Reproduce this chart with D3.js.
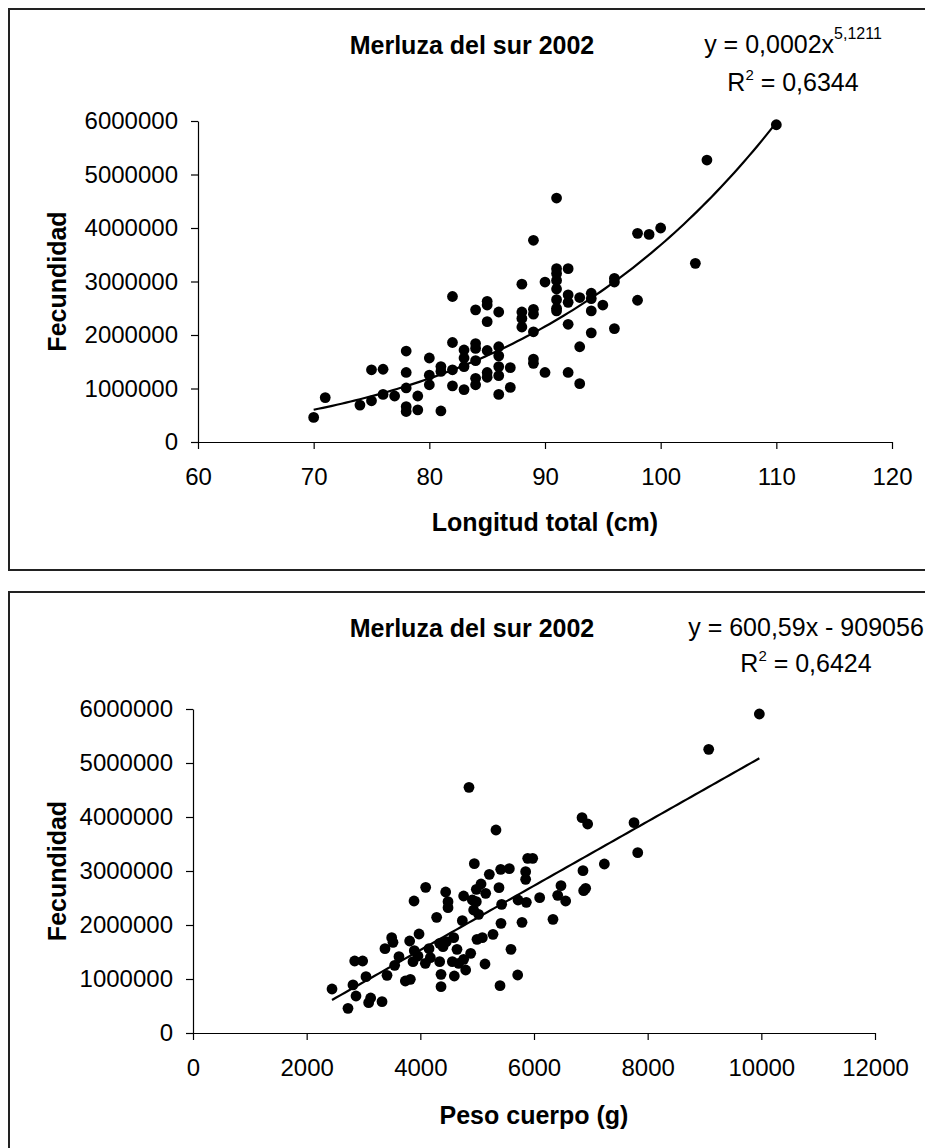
<!DOCTYPE html>
<html>
<head>
<meta charset="utf-8">
<script src="https://cdn.jsdelivr.net/npm/d3@7"></script>
<style>
  body { margin: 0; background: #fff; }
  svg text { font-family: "Liberation Sans", Arial, sans-serif; fill: #000; }
</style>
</head>
<body>
<div id="chart"></div>
<script>
// panel 1: fecundity against total length
const lengthCm = [70,71,74,75,75,76,76,77,78,78,78,78,78,79,79,80,80,80,81,81,81,82,82,82,82,83,83,83,83,
  84,84,84,84,84,84,85,85,85,85,85,85,86,86,86,86,86,86,87,87,88,88,88,88,89,89,89,89,89,89,90,90,
  91,91,91,91,91,91,91,91,92,92,92,92,92,93,93,93,94,94,94,94,95,96,96,96,98,98,99,100,103,104,110];
const fecundityByLength = [460000,830000,690000,770000,1350000,1360000,890000,860000,1700000,1300000,1010000,
  660000,570000,860000,600000,1570000,1250000,1070000,580000,1410000,1320000,2720000,1860000,1350000,1050000,
  1720000,1570000,1410000,980000,2470000,1840000,1750000,1520000,1190000,1070000,2630000,2560000,2250000,
  1710000,1300000,1210000,2430000,1780000,1610000,1410000,1240000,890000,1390000,1020000,2950000,2430000,
  2310000,2150000,3770000,2480000,2390000,2060000,1550000,1470000,2990000,1300000,4560000,3240000,3150000,
  3020000,2860000,2660000,2500000,2450000,3240000,2750000,2610000,2200000,1300000,2700000,1780000,1090000,
  2780000,2680000,2450000,2040000,2560000,3060000,2990000,2120000,3900000,2650000,3880000,4000000,3340000,
  5270000,5930000];

// panel 2: fecundity against body weight
const weightG = [2446,2727,2815,2868,2845,2985,3044,3091,3126,3326,3378,3414,3496,3519,3548,3624,3736,3824,
  3812,3889,3894,3871,3959,3977,4094,4088,4153,4176,4287,4340,4340,4364,4364,4399,4446,4487,4487,4457,4587,
  4563,4598,4645,4674,4739,4762,4762,4798,4856,4886,4915,4938,4950,4985,4985,5026,4997,5091,5068,5138,5150,
  5214,5279,5331,5384,5402,5414,5431,5419,5566,5595,5713,5789,5719,5853,5853,5889,5977,5865,6100,6334,6417,
  6475,6557,6845,6944,6862,6874,6909,7238,7760,7825,9074,9965];
const fecundityByWeight = [815000,457000,890000,685000,1333000,1333000,1043000,562000,648000,580000,1562000,
  1068000,1765000,1679000,1253000,1414000,963000,994000,1704000,2444000,1525000,1321000,1426000,1833000,
  2698000,1290000,1562000,1395000,2142000,1660000,1321000,1086000,858000,1599000,2611000,2432000,2321000,
  1691000,1765000,1321000,1056000,1549000,1290000,2080000,2537000,1364000,1167000,4549000,1475000,2463000,
  2278000,3136000,2660000,2432000,2198000,1735000,1765000,2759000,1278000,2586000,2938000,1827000,3759000,
  2691000,877000,3031000,2383000,2031000,3043000,1549000,1074000,2049000,2463000,2988000,2846000,3235000,
  3235000,2420000,2506000,2105000,2549000,2728000,2444000,3988000,3870000,3006000,2636000,2679000,3130000,
  3895000,3340000,5253000,5907000];

const yTicks = [0,1000000,2000000,3000000,4000000,5000000,6000000];
const lengthTicks = [60,70,80,90,100,110,120];
const weightTicks = [0,2000,4000,6000,8000,10000,12000];

const chartTitle = "Merluza del sur 2002";
const yLabel = "Fecundidad";

const svg = d3.select("#chart").append("svg")
  .attr("width", 925).attr("height", 1148);

function linFit(xs, ys) {
  const mx = d3.mean(xs), my = d3.mean(ys);
  const sxy = d3.sum(xs, (v, i) => (v - mx) * (ys[i] - my));
  const sxx = d3.sum(xs, v => (v - mx) * (v - mx));
  const slope = sxy / sxx;
  return { slope, intercept: my - slope * mx };
}

// excel-style trendlines, fitted from the points
function powerTrend(xs, ys) {
  const f = linFit(xs.map(Math.log), ys.map(Math.log));
  return v => Math.exp(f.intercept) * Math.pow(v, f.slope);
}
function linearTrend(xs, ys) {
  const f = linFit(xs, ys);
  return v => f.intercept + f.slope * v;
}

function drawPanel(p) {
  const g = svg.append("g");

  g.append("rect")
    .attr("x", 9).attr("y", p.top)
    .attr("width", 940).attr("height", p.frameH)
    .attr("fill", "none").attr("stroke", "#222").attr("stroke-width", 2);

  const x = d3.scaleLinear().domain(d3.extent(p.xTicks)).range([p.left, p.right]);
  const y = d3.scaleLinear().domain([0, 6000000]).range([p.bottom, p.yTop]);

  const xAxis = g.append("g")
    .attr("transform", `translate(0,${p.bottom})`)
    .call(d3.axisBottom(x).tickValues(p.xTicks).tickFormat(d3.format("d"))
      .tickSize(7).tickSizeOuter(0).tickPadding(19));
  const yAxis = g.append("g")
    .attr("transform", `translate(${p.left},0)`)
    .call(d3.axisLeft(y).tickValues(yTicks).tickFormat(d3.format("d"))
      .tickSize(7).tickSizeOuter(0).tickPadding(13));
  [xAxis, yAxis].forEach(a => {
    a.selectAll("path, line").attr("stroke", "#000").attr("stroke-width", 1.2);
    a.selectAll("text").attr("font-size", 24)
      .style("font-family", "'Liberation Sans', Arial, sans-serif").attr("fill", "#000");
  });

  // trendline
  const [x0, x1] = d3.extent(p.xs);
  const steps = d3.range(0, 101).map(i => x0 + (x1 - x0) * i / 100);
  g.append("path")
    .datum(steps)
    .attr("fill", "none").attr("stroke", "#000").attr("stroke-width", 2.2)
    .attr("d", d3.line().x(v => x(v)).y(v => y(p.trend(v))));

  g.selectAll("circle.pt").data(p.xs.map((v, i) => [v, p.ys[i]]))
    .join("circle").attr("class", "pt")
    .attr("cx", d => x(d[0])).attr("cy", d => y(d[1]))
    .attr("r", 5.4).attr("fill", "#000");

  g.append("text")
    .attr("x", 472).attr("y", p.top + 45)
    .attr("text-anchor", "middle").attr("font-size", 25).attr("font-weight", "bold")
    .text(chartTitle);

  // equation
  const eq = g.append("text")
    .attr("x", p.eqX).attr("y", p.top + 44)
    .attr("text-anchor", "middle").attr("font-size", 25);
  eq.append("tspan").text(p.eqMain);
  if (p.eqSup) eq.append("tspan").attr("font-size", 16).attr("dy", -14).text(p.eqSup);

  const r2 = g.append("text")
    .attr("x", p.eqX).attr("y", p.top + p.r2Dy)
    .attr("text-anchor", "middle").attr("font-size", 25);
  r2.append("tspan").text("R");
  r2.append("tspan").attr("font-size", 15).attr("dy", -11).text("2");
  r2.append("tspan").attr("dy", 11).text(" = " + p.r2);

  g.append("text")
    .attr("x", (p.left + p.right) / 2).attr("y", p.xLabelY)
    .attr("text-anchor", "middle").attr("font-size", 25).attr("font-weight", "bold")
    .text(p.xLabel);

  g.append("text")
    .attr("transform", `translate(66,${(p.bottom + p.yTop) / 2}) rotate(-90)`)
    .attr("text-anchor", "middle").attr("font-size", 25).attr("font-weight", "bold")
    .text(yLabel);
}

drawPanel({
  top: 9, frameH: 561,
  left: 198, right: 892, bottom: 442, yTop: 121,
  xTicks: lengthTicks, xs: lengthCm, ys: fecundityByLength,
  trend: powerTrend(lengthCm, fecundityByLength),
  eqX: 793, eqMain: "y = 0,0002x", eqSup: "5,1211", r2: "0,6344", r2Dy: 82,
  xLabel: "Longitud total (cm)", xLabelY: 531
});

drawPanel({
  top: 592, frameH: 700,
  left: 193, right: 875, bottom: 1033, yTop: 709,
  xTicks: weightTicks, xs: weightG, ys: fecundityByWeight,
  trend: linearTrend(weightG, fecundityByWeight),
  eqX: 806, eqMain: "y = 600,59x - 909056", eqSup: null, r2: "0,6424", r2Dy: 80,
  xLabel: "Peso cuerpo (g)", xLabelY: 1124
});
</script>
</body>
</html>
